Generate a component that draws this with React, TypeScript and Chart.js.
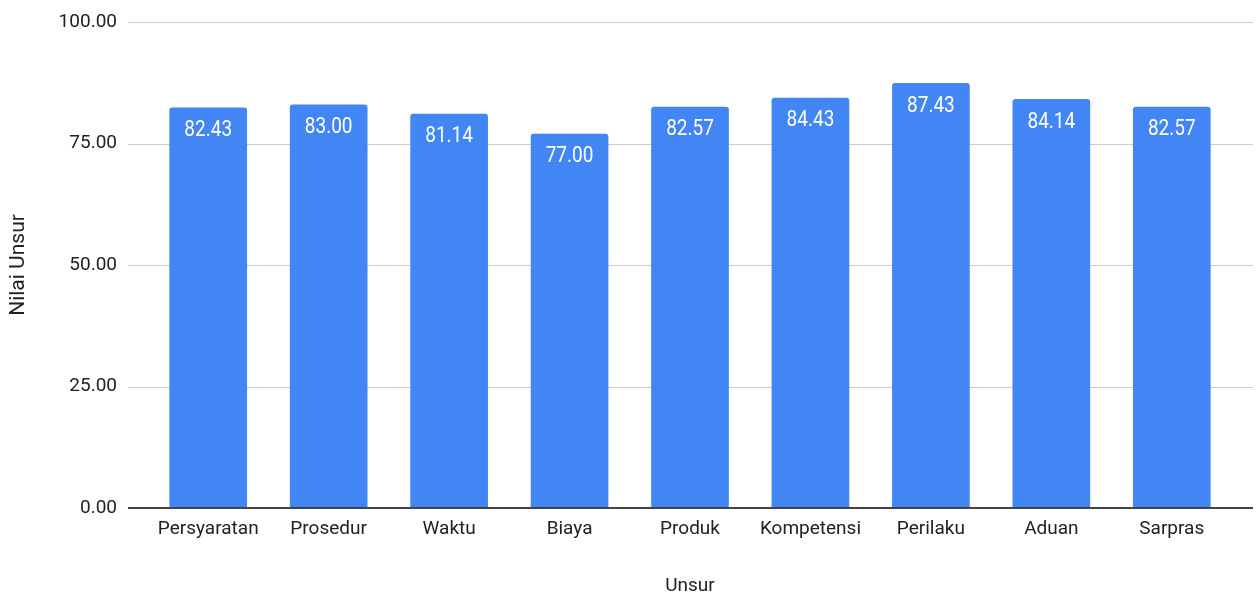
import React, { useEffect, useRef } from "react";
import { Chart, registerables } from "chart.js";

Chart.register(...registerables);

const categories = ["Persyaratan", "Prosedur", "Waktu", "Biaya", "Produk", "Kompetensi", "Perilaku", "Aduan", "Sarpras"];
const values = [82.43, 83.0, 81.14, 77.0, 82.57, 84.43, 87.43, 84.14, 82.57];
const yTicks = [0, 25, 50, 75, 100];
const xTitle = "Unsur";
const yTitle = "Nilai Unsur";

const FONT = "Roboto, 'Liberation Sans', Arial, sans-serif";

const gridPlugin = {
  id: "extGrid",
  beforeDatasetsDraw(chart: any) {
    const { ctx, chartArea, scales } = chart;
    const y = scales.y;
    ctx.save();
    ctx.strokeStyle = "#cccccc";
    ctx.lineWidth = 1;
    yTicks.forEach((v) => {
      if (v === 0) return;
      const py = Math.round(y.getPixelForValue(v)) + 0.5;
      ctx.beginPath();
      ctx.moveTo(chartArea.left - 20, py);
      ctx.lineTo(chartArea.right + 21, py);
      ctx.stroke();
    });
    ctx.restore();
  },
  afterDatasetsDraw(chart: any) {
    const { ctx, chartArea, scales } = chart;
    const y = scales.y;
    ctx.save();
    const meta = chart.getDatasetMeta(0);
    ctx.fillStyle = "#ffffff";
    ctx.font = `19px ${FONT}`;
    ctx.textAlign = "center";
    ctx.textBaseline = "alphabetic";
    meta.data.forEach((bar: any, i: number) => {
      ctx.save();
      ctx.translate(bar.x, bar.y + 28.5);
      ctx.scale(1, 1.18);
      ctx.fillText(values[i].toFixed(2), 0, 0);
      ctx.restore();
    });
    const py = y.getPixelForValue(0);
    ctx.strokeStyle = "#444444";
    ctx.lineWidth = 2;
    ctx.beginPath();
    ctx.moveTo(chartArea.left - 20, py);
    ctx.lineTo(chartArea.right + 21, py);
    ctx.stroke();
    ctx.restore();
  },
};

export default function App() {
  const ref = useRef<HTMLCanvasElement | null>(null);

  useEffect(() => {
    if (!ref.current) return;
    const chart = new Chart(ref.current, {
      type: "bar",
      data: {
        labels: categories,
        datasets: [
          {
            data: values,
            backgroundColor: "#4285F4",
            borderWidth: 0,
            borderRadius: { topLeft: 3, topRight: 3, bottomLeft: 0, bottomRight: 0 },
            borderSkipped: "start",
            barPercentage: 0.645,
            categoryPercentage: 1,
          },
        ],
      },
      options: {
        animation: false,
        responsive: true,
        maintainAspectRatio: false,
        layout: { padding: { left: 0, right: 24, top: 22, bottom: 0 } },
        plugins: {
          legend: { display: false },
          tooltip: { enabled: false },
        },
        scales: {
          x: {
            grid: { display: false, drawTicks: false },
            border: { display: false },
            ticks: {
              color: "#222222",
              font: { family: FONT, size: 19 },
              padding: 10,
              maxRotation: 0,
              autoSkip: false,
            },
            title: {
              display: true,
              text: xTitle,
              color: "#222222",
              font: { family: FONT, size: 19 },
              padding: { top: 0, bottom: 0 },
            },
            afterFit: (s: any) => {
              s.height = 90;
            },
          },
          y: {
            min: 0,
            max: 100,
            grid: { display: false, drawTicks: false },
            border: { display: false },
            ticks: {
              stepSize: 25,
              color: "#222222",
              font: { family: FONT, size: 19 },
              padding: 31,
              callback: (v: any) => Number(v).toFixed(2),
            },
            title: {
              display: true,
              text: yTitle,
              color: "#222222",
              font: { family: FONT, size: 21 },
              padding: { top: 6, bottom: 0 },
            },
            afterFit: (s: any) => {
              s.width = 148;
              s.paddingTop = 0;
              s.paddingBottom = 0;
            },
          },
        },
      },
      plugins: [gridPlugin],
    });
    return () => chart.destroy();
  }, []);

  return (
    <div style={{ position: "absolute", left: 0, top: 0, width: 1256, height: 598, background: "#fff" }}>
      <canvas ref={ref} />
    </div>
  );
}
